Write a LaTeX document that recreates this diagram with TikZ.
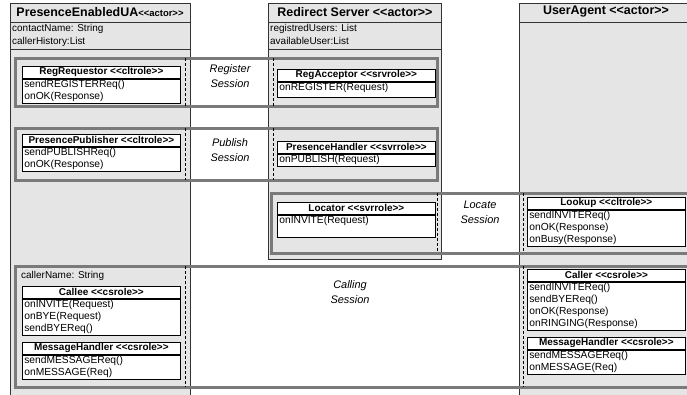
\documentclass[tikz,border=0pt]{standalone}
\usepackage{fontspec}
\setmainfont{Liberation Sans}
\usetikzlibrary{positioning}
\newcommand{\stereo}[1]{<\kern0pt<#1>\kern0pt>}
\tikzset{
  actor/.style={draw=black!80, fill=black!10, line width=1bp},
  session/.style={draw=black!52, line width=3bp},
  split/.style={dash pattern=on 3bp off 2bp, line width=0.6bp},
  rolename/.style={draw, fill=white, line width=0.7bp, anchor=north west, minimum width=158bp, minimum height=12bp, inner sep=0pt, font=\fontsize{10}{12}\selectfont\bfseries},
  roleops/.style={draw, fill=white, line width=0.7bp, below=0pt of #1, text width=154bp, inner xsep=2bp, inner ysep=1.5bp, align=left, font=\fontsize{10.3}{12}\selectfont},
  attr/.style={anchor=north west, inner sep=1bp, align=left, font=\fontsize{10}{13}\selectfont},
  sesslabel/.style={align=center, font=\fontsize{11}{15}\selectfont\itshape},
  actorname/.style={font=\fontsize{12.5}{14}\selectfont\bfseries}
}
\begin{document}
\begin{tikzpicture}[x=1bp, y=-1bp]
	\useasboundingbox (0,0) rectangle (687,394);
	\clip (0,0) rectangle (687,394);
	% actors
	\draw[actor] (10,3) rectangle (190,400);
	\draw[actor] (268,3) rectangle (441,259);
	\draw[actor] (519,3) rectangle (700,400);
	\draw[line width=1bp, black!80] (10,22) -- (190,22) (10,49) -- (190,49);
	\draw[line width=1bp, black!80] (268,22) -- (441,22) (268,49) -- (441,49);
	\draw[line width=1bp, black!80] (519,22) -- (700,22);

	\node[actorname] (uaname) at (100,12) {PresenceEnabledUA{\fontsize{9.5}{11}\selectfont\stereo{actor}}};
	\node[actorname] (rsname) at (355,12) {Redirect Server \stereo{actor}};
	\node[actorname] (agname) at (606,12) {UserAgent \stereo{actor}};
	\node[attr] (uaattr) at (11,23) {contactName: String\\callerHistory:List};
	\node[attr] (rsattr) at (269,23) {registredUsers: List\\availableUser:List};

	% sessions
	\draw[session] (15,58) rectangle (437,106);
	\draw[session] (15,128) rectangle (437,180);
	\draw[session] (271,193) rectangle (700,253);
	\draw[session] (15,266) rectangle (700,387);
	\draw[split] (185,58) -- (185,106) (273,58) -- (273,106);
	\draw[split] (185,128) -- (185,180) (273,128) -- (273,180);
	\draw[split] (437,193) -- (437,253) (523,193) -- (523,253);
	\draw[split] (185,266) -- (185,387) (523,266) -- (523,387);

	\node[sesslabel] (regsess) at (230,76) {Register\\Session};
	\node[sesslabel] (pubsess) at (230,150) {Publish\\Session};
	\node[sesslabel] (locsess) at (480,212) {Locate\\Session};
	\node[sesslabel] (callsess) at (350,292) {Calling\\Session};

	% roles
	\node[rolename] (regreq) at (22,66) {RegRequestor \stereo{cltrole}};
	\node[roleops=regreq] (regreq-ops) {sendREGISTERReq()\\onOK(Response)};
	\node[rolename] (regacc) at (277,69) {RegAcceptor \stereo{srvrole}};
	\node[roleops=regacc, text depth=5bp] (regacc-ops) {onREGISTER(Request)};

	\node[rolename] (pubr) at (22,134) {PresencePublisher \stereo{cltrole}};
	\node[roleops=pubr] (pubr-ops) {sendPUBLISHReq()\\onOK(Response)};
	\node[rolename] (presh) at (277,141) {PresenceHandler \stereo{svrrole}};
	\node[roleops=presh] (presh-ops) {onPUBLISH(Request)};

	\node[rolename] (loc) at (277,202) {Locator \stereo{svrrole}};
	\node[roleops=loc] (loc-ops) {onINVITE(Request)\\ \mbox{}};
	\node[rolename] (look) at (527,197) {Lookup \stereo{cltrole}};
	\node[roleops=look] (look-ops) {sendINVITEReq()\\onOK(Response)\\onBusy(Response)};

	\node[attr] (callattr) at (20,270) {callerName: String};
	\node[rolename] (callee) at (22,286) {Callee \stereo{csrole}};
	\node[roleops=callee] (callee-ops) {onINVITE(Request)\\onBYE(Request)\\sendBYEReq()};
	\node[rolename] (msgl) at (22,342) {MessageHandler \stereo{csrole}};
	\node[roleops=msgl] (msgl-ops) {sendMESSAGEReq()\\onMESSAGE(Req)};

	\node[rolename] (caller) at (527,269) {Caller \stereo{csrole}};
	\node[roleops=caller] (caller-ops) {sendINVITEReq()\\sendBYEReq()\\onOK(Response)\\onRINGING(Response)};
	\node[rolename] (msgr) at (527,337) {MessageHandler \stereo{csrole}};
	\node[roleops=msgr] (msgr-ops) {sendMESSAGEReq()\\onMESSAGE(Req)};
\end{tikzpicture}
\end{document}
